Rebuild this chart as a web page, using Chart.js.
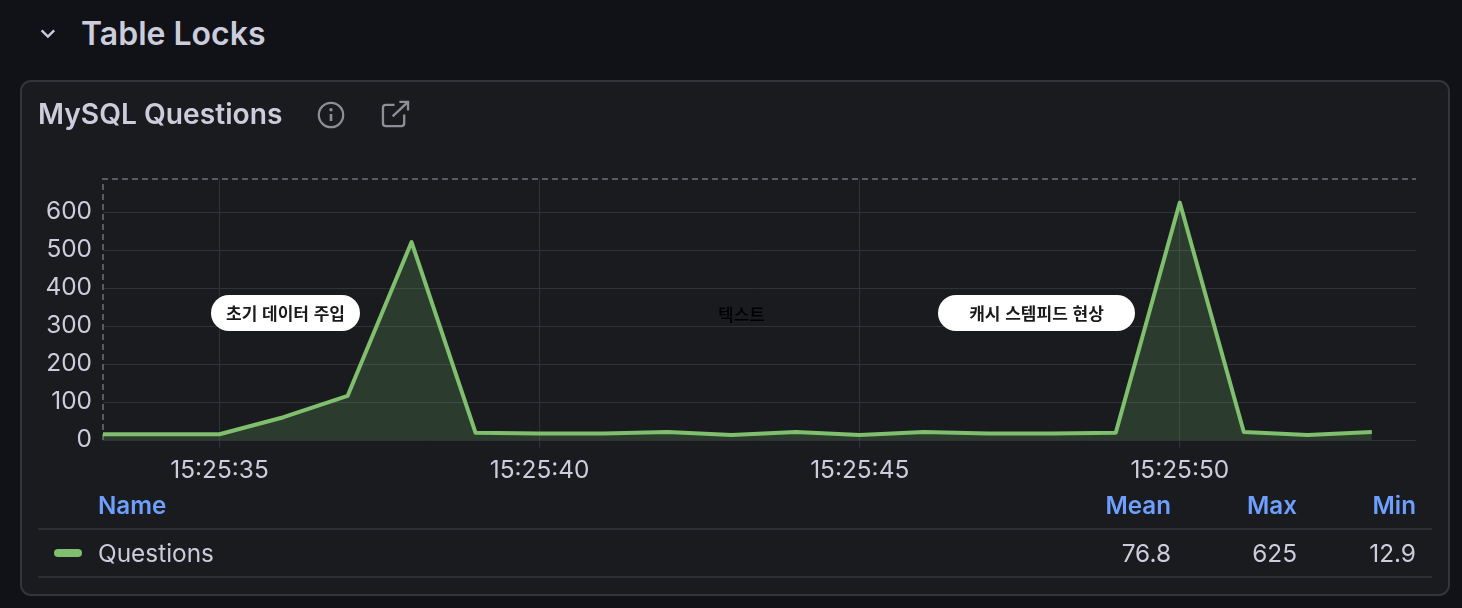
<!DOCTYPE html>
<html lang="ko">
<head>
<meta charset="utf-8">
<title>MySQL Questions</title>
<script src="https://cdn.jsdelivr.net/npm/chart.js@4"></script>
<style>
  html, body { margin: 0; padding: 0; background: #111217; }
  body { position: relative; width: 1462px; height: 608px; overflow: hidden; font-family: Inter, sans-serif; color: #ccccdc; }
  .abs { position: absolute; white-space: nowrap; }
  #panel { position: absolute; left: 20px; top: 80px; width: 1426px; height: 512px; background: #1a1b1f; border: 2px solid #34353a; border-radius: 11px; }
  #wrap { position: absolute; left: 0; top: 0; width: 1462px; height: 608px; }
  #row-title { left: 81px; top: 14px; font-size: 32px; line-height: 40px; font-weight: 600; }
  #panel-title { left: 38px; top: 96px; font-size: 28.2px; line-height: 36px; font-weight: 600; }
  .pill { position: absolute; top: 295px; height: 36px; background: #fff; border-radius: 18px; color: #1a1a1a; text-align: center; font: 700 17px/36px "Noto Sans CJK KR", sans-serif; }
  .plain { position: absolute; top: 295px; color: #000; font: 500 17px/37px "Noto Sans CJK KR", sans-serif; }
  .head { color: #6e9fff; font-size: 24.2px; line-height: 30px; font-weight: 600; top: 491px; }
  .cell { font-size: 24.4px; line-height: 30px; top: 538px; }
  .right { transform: translateX(-100%); }
  .rule { position: absolute; left: 38px; width: 1394px; height: 2px; background: #2d2e34; }
  #swatch { position: absolute; left: 54px; top: 549px; width: 28px; height: 8px; border-radius: 4px; background: #7fbf6e; }
  svg { position: absolute; fill: none; }
</style>
</head>
<body>
<svg style="left:38px;top:26px" width="20" height="16" viewBox="0 0 20 16"><path d="M3 5l7 7 7-7" transform="translate(0,-1) scale(.9) translate(1,1)" stroke="#ccccdc" stroke-width="2.6"/></svg>
<div id="row-title" class="abs">Table Locks</div>
<div id="panel"></div>
<div id="wrap"><canvas id="myChart"></canvas></div>
<div id="panel-title" class="abs">MySQL Questions</div>
<svg style="left:317px;top:101px" width="28" height="28" viewBox="0 0 28 28"><circle cx="14" cy="14" r="12.2" stroke="#8e8f96" stroke-width="2.2"/><path d="M14 13v7" stroke="#8e8f96" stroke-width="2.6"/><circle cx="14" cy="8.8" r="1.7" fill="#8e8f96"/></svg>
<svg style="left:381px;top:100px" width="29" height="28" viewBox="0 0 30 29"><path d="M14 5H5a3 3 0 0 0-3 3v16a3 3 0 0 0 3 3h16a3 3 0 0 0 3-3v-9M12 17L28 2M19 2h9v9" stroke="#8e8f96" stroke-width="2.4"/></svg>
<div class="pill" style="left:211px;width:149px">초기 데이터 주입</div>
<div class="plain" style="left:718px">텍스트</div>
<div class="pill" style="left:938px;width:197px">캐시 스템피드 현상</div>
<div id="legend"></div>
<script>
// one point per second
const seconds = [33, 34, 35, 36, 37, 38, 39, 40, 41, 42, 43, 44, 45, 46, 47, 48, 49, 50, 51, 52, 53]
const questions = [15, 15, 15, 60, 116, 521, 19, 17, 17, 21, 13, 21, 13, 21, 17, 17, 19, 625, 21, 13, 21]
const seriesName = 'Questions'
const statNames = ['Mean', 'Max', 'Min']
const statValues = ['76.8', '625', '12.9']
const statRight = [1171, 1297, 1416]

const green = '#7fbf6e'
const gridColor = '#313238'
const tickFont = { family: 'Inter', size: 24.4 }

// dashed top and left edges of the plot, border.dash would also dash the grid
const plotEdges = {
  id: 'plotEdges',
  beforeDatasetsDraw(chart) {
    const { ctx, chartArea } = chart
    ctx.save()
    ctx.strokeStyle = '#5a5b61'
    ctx.lineWidth = 2
    ctx.setLineDash([6, 4])
    ctx.beginPath()
    ctx.moveTo(chartArea.left, chartArea.bottom)
    ctx.lineTo(chartArea.left, chartArea.top)
    ctx.lineTo(chartArea.right, chartArea.top)
    ctx.stroke()
    ctx.restore()
  }
}

const ctx = document.getElementById('myChart')
new Chart(ctx, {
  type: 'line',
  data: {
    datasets: [{
      label: seriesName,
      data: seconds.map((s, i) => ({ x: s, y: questions[i] })),
      borderColor: green,
      borderWidth: 4,
      borderJoinStyle: 'round',
      backgroundColor: 'rgba(115,191,105,0.2)',
      fill: 'origin',
      pointRadius: 0,
      tension: 0
    }]
  },
  options: {
    responsive: true,
    maintainAspectRatio: false,
    animation: false,
    layout: { padding: { top: 179, right: 46, left: 0, bottom: 0 } },
    plugins: { legend: false, tooltip: { enabled: false } },
    scales: {
      x: {
        type: 'linear',
        min: 33.18,
        max: 53.69,
        afterFit(scale) { scale.height = 168 },
        grid: { color: gridColor, lineWidth: 1, tickLength: 8, tickColor: gridColor },
        border: { display: false },
        ticks: {
          stepSize: 5,
          includeBounds: false,
          maxRotation: 0,
          autoSkip: false,
          color: '#ccccdc',
          font: tickFont,
          padding: 8,
          callback: v => '15:25:' + v
        }
      },
      y: {
        min: 0,
        max: 687,
        afterFit(scale) { scale.width = 103 },
        grid: { color: gridColor, lineWidth: 1, drawTicks: false },
        border: { display: false },
        ticks: {
          stepSize: 100,
          includeBounds: false,
          color: '#ccccdc',
          font: tickFont,
          padding: 11
        }
      }
    }
  },
  plugins: [plotEdges]
})

// legend table under the plot
const legend = document.getElementById('legend')
let html = '<div class="abs head" style="left:98px">Name</div>'
statNames.forEach((name, i) => {
  html += '<div class="abs head right" style="left:' + statRight[i] + 'px">' + name + '</div>'
  html += '<div class="abs cell right" style="left:' + statRight[i] + 'px">' + statValues[i] + '</div>'
})
html += '<div class="rule" style="top:528px"></div><div class="rule" style="top:576px"></div>'
html += '<div id="swatch"></div><div class="abs cell" style="left:98px">' + seriesName + '</div>'
legend.innerHTML = html
</script>
</body>
</html>
